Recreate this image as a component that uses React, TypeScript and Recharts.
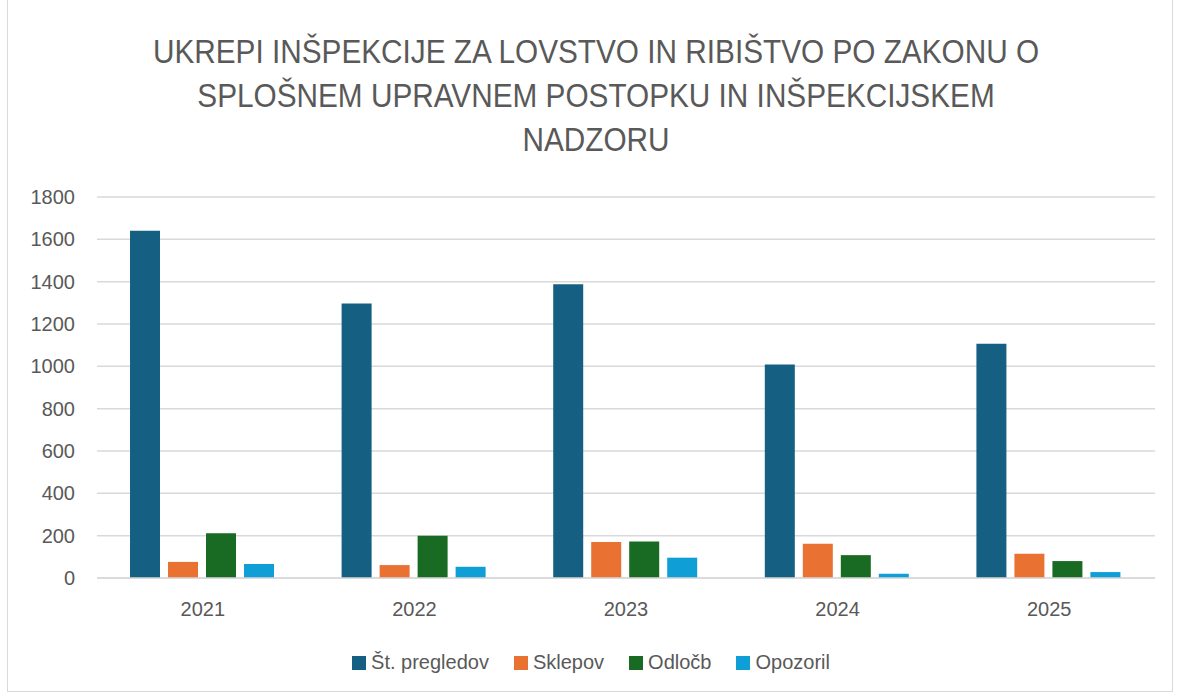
import { BarChart, Bar, XAxis, YAxis, CartesianGrid, Legend } from 'recharts';

const years = ['2021', '2022', '2023', '2024', '2025'];
const pregledi = [1641, 1297, 1388, 1009, 1107];
const sklepi = [76, 61, 170, 162, 115];
const odlocbe = [212, 200, 173, 108, 80];
const opozorila = [66, 53, 96, 20, 28];
const yTicks = [0, 200, 400, 600, 800, 1000, 1200, 1400, 1600, 1800];

const series = [
  { key: 'Št. pregledov', color: '#156082' },
  { key: 'Sklepov', color: '#E97132' },
  { key: 'Odločb', color: '#196B24' },
  { key: 'Opozoril', color: '#0F9ED5' },
];

const chartData = years.map((y, i) => ({
  name: y,
  'Št. pregledov': pregledi[i],
  Sklepov: sklepi[i],
  'Odločb': odlocbe[i],
  Opozoril: opozorila[i],
}));

const textColor = '#595959';
const font = '"Liberation Sans", Arial, sans-serif';

function LegendContent() {
  return (
    <div style={{ display: 'flex', justifyContent: 'center', fontFamily: font, fontSize: 20, color: textColor }}>
      {series.map(s => (
        <div key={s.key} style={{ display: 'flex', alignItems: 'center', margin: '0 12.5px' }}>
          <span style={{ width: 14, height: 14, background: s.color, marginRight: 5, display: 'inline-block' }} />
          <span>{s.key}</span>
        </div>
      ))}
    </div>
  );
}

export default function App() {
  return (
    <div style={{ position: 'absolute', left: 7, top: -1, width: 1164, height: 691, border: '1px solid #d9d9d9', background: '#fff' }}>
      <div style={{
        position: 'absolute', top: 29, left: 6, width: '100%', textAlign: 'center',
        fontFamily: font, fontSize: 34, lineHeight: '44px', color: textColor,
        transform: 'scaleX(0.875)', transformOrigin: '50% 0',
      }}>
        UKREPI INŠPEKCIJE ZA LOVSTVO IN RIBIŠTVO PO ZAKONU O<br />
        SPLOŠNEM UPRAVNEM POSTOPKU IN INŠPEKCIJSKEM<br />
        NADZORU
      </div>
      <BarChart
        width={1164}
        height={691}
        data={chartData}
        margin={{ top: 197, right: 17, left: 19, bottom: 50 }}
        barCategoryGap="15.6%"
        barGap={8}
        style={{ position: 'absolute', left: 0, top: 0 }}
      >
        <CartesianGrid vertical={false} stroke="#d9d9d9" strokeWidth={1.5} />
        <XAxis
          dataKey="name"
          axisLine={{ stroke: '#d9d9d9', strokeWidth: 1.5 }}
          tickLine={false}
          height={40}
          tickMargin={18}
          tick={{ fill: textColor, fontSize: 20, fontFamily: font }}
        />
        <YAxis
          domain={[0, 1800]}
          ticks={yTicks}
          width={70}
          axisLine={false}
          tickLine={false}
          tickMargin={16}
          tick={{ fill: textColor, fontSize: 20, fontFamily: font }}
        />
        <Legend verticalAlign="bottom" content={<LegendContent />} wrapperStyle={{ bottom: 17 }} />
        {series.map(s => (
          <Bar key={s.key} dataKey={s.key} fill={s.color} isAnimationActive={false} />
        ))}
      </BarChart>
    </div>
  );
}
